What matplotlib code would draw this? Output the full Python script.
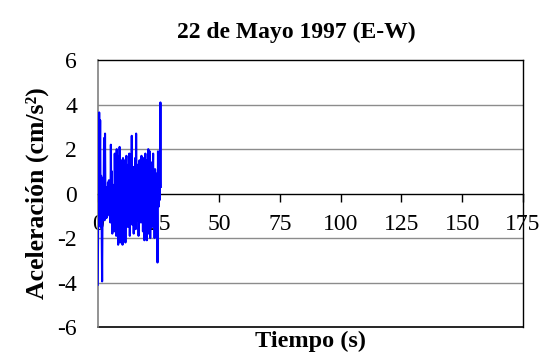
import numpy as np
import matplotlib
matplotlib.use("Agg")
import matplotlib.pyplot as plt

title = "22 de Mayo 1997 (E-W)"
xlabel = "Tiempo (s)"
ylabel = "Aceleración (cm/s²)"
x_ticks = [0, 25, 50, 75, 100, 125, 150, 175]
y_ticks = [-6, -4, -2, 0, 2, 4, 6]
dt = 0.2
accel = [
    -4.1, -1.0, 0.5, 3.65, 0.5, 3.3, -1.5, 0.8, -1.2, -3.95,
    -0.3, 0.7, -0.3, 2.5, -1.2, 2.7, -0.8, 0.3, -1.1, 0.2,
    -1.0, 0.5, -0.2, 0.6, -0.9, 0.2, -1.3, 2.2, -0.6, 1.0,
    -1.8, 0.4, -0.5, 0.3, -1.7, 1.8, -0.4, 0.6, -1.9, 2.0,
    -0.3, 1.7, -2.3, 0.8, -1.0, 2.1, -2.2, 0.5, 1.5, -1.4,
    0.9, -2.3, 1.6, -0.7, 0.4, -1.2, 1.5, -2.2, 0.8, 1.7,
    -0.9, 0.3, -1.5, 1.3, -0.6, 1.8, -1.9, 0.6, 1.4, -1.0,
    2.6, -1.4, 0.4, 1.2, -1.8, 0.9, -0.5, 1.6, -1.6, 2.7,
    -0.4, 0.8, -1.2, 1.3, -1.9, 0.6, 1.5, -0.8, 0.2, -1.3,
    1.7, -0.7, 1.4, -1.7, 0.5, 1.6, -2.1, 0.9, 1.8, -1.2,
    0.4, -2.1, 1.5, -0.6, 2.0, -1.8, 0.7, 1.9, -2.0, 0.3,
    -0.9, 1.4, -1.5, 0.6, 1.8, -1.1, 0.2, -2.0, 1.1, 0.4,
    -1.3, 0.9, -0.4, -3.1, 1.9, -0.6, 1.2, -0.3, 0.5, 4.1,
    0.3,
]
time = np.arange(len(accel)) * dt

plt.rcParams['font.family'] = ['Liberation Serif', 'DejaVu Serif']
plt.rcParams['axes.unicode_minus'] = False

fig = plt.figure(figsize=(5.43, 3.62), dpi=100)
ax = fig.add_axes([0.18, 0.0967, 0.783, 0.737])

ax.set_xlim(0, 175)
ax.set_ylim(-6, 6)
for yv in [-4, -2, 2, 4]:
    ax.axhline(yv, color='#8c8c8c', lw=1.0, zorder=1)
ax.axhline(-6, color='black', lw=1.2, zorder=1, clip_on=False)

ax.plot(time, accel, color='#0000ff', lw=1.5, zorder=3)

ax.spines['bottom'].set_position(('data', 0))
ax.spines['bottom'].set_color('black')
ax.spines['bottom'].set_linewidth(1.0)
ax.spines['top'].set_color('black')
ax.spines['right'].set_color('black')
ax.spines['left'].set_color('#808080')
for s in ['top', 'right']:
    ax.spines[s].set_linewidth(1.0)
ax.spines['left'].set_linewidth(1.2)

ax.set_xticks(x_ticks)
ax.set_yticks(y_ticks)
ax.tick_params(axis='x', direction='out', length=6, width=1, labelsize=17, pad=9)
ax.tick_params(axis='y', length=0, labelsize=17, pad=15)

fig.text(0.545, 0.91, title, fontsize=17, fontweight='bold', ha='center', va='center')
ax.set_ylabel(ylabel, fontsize=18.5, fontweight='bold', labelpad=6)
fig.text(0.572, 0.058, xlabel, fontsize=17.5, fontweight='bold', ha='center', va='center')

fig.savefig("out.png", dpi=100)
